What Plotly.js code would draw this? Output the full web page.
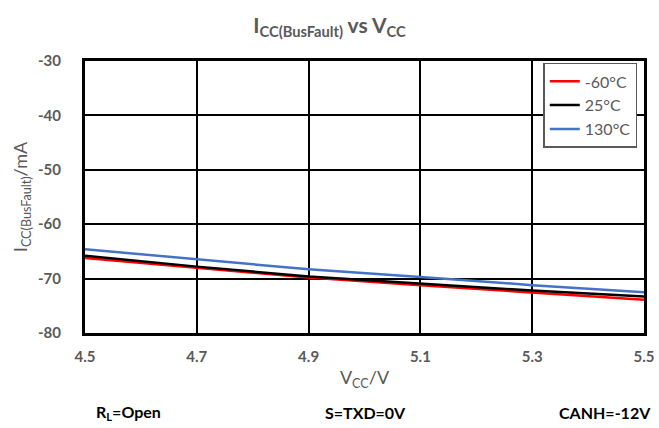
<!DOCTYPE html>
<html><head><meta charset="utf-8">
<script src="https://cdn.plot.ly/plotly-3.0.1.min.js"></script>
<style>html,body{margin:0;padding:0;background:#fff;}#chart{width:659px;height:428px;}</style>
</head><body><div id="chart"></div>
<script>
var vcc = [4.5, 4.7, 4.9, 5.1, 5.3, 5.5];
var seriesNames = ["-60°C", "25°C", "130°C"];
var iccM60 = [-66.2, -68.0, -69.8, -71.2, -72.6, -73.9];
var icc25 = [-65.8, -67.8, -69.6, -70.9, -72.2, -73.3];
var icc130 = [-64.6, -66.4, -68.3, -69.7, -71.2, -72.5];
var xTicks = [4.5, 4.7, 4.9, 5.1, 5.3, 5.5];
var yTicks = [-30, -40, -50, -60, -70, -80];

var font = "Lato, 'Open Sans', sans-serif";
var gray = "#595959";
var colors = ["#ff0000", "#000000", "#4472c4"];
var ys = [iccM60, icc25, icc130];
var traces = ys.map(function(y, i){
  return {x: vcc, y: y, name: seriesNames[i], type: "scatter", mode: "lines",
    line: {color: colors[i], width: 2.5}};
});
var layout = {
  width: 659, height: 428,
  margin: {l: 85, r: 15, t: 61, b: 95},
  paper_bgcolor: "#fff", plot_bgcolor: "#fff",
  font: {family: font, color: gray},
  title: {text: "<b>I<sub>CC(BusFault)</sub> vs V<sub>CC</sub></b>", x: 0.5, xanchor: "center", y: 0.94, yanchor: "middle",
    font: {size: 21, color: gray, family: font}},
  xaxis: {range: [4.5, 5.5], tickvals: xTicks, ticktext: xTicks.map(function(v){return "<b>"+v.toFixed(1)+"</b>";}),
    showgrid: true, gridcolor: "#000", gridwidth: 2, zeroline: false,
    showline: true, linecolor: "#000", linewidth: 3, mirror: true, ticks: "",
    tickfont: {size: 15, color: gray}, ticklabelstandoff: 8,
    title: {text: "V<sub>CC</sub>/V", font: {size: 18, color: gray}, standoff: 8}},
  yaxis: {range: [-80, -30], tickvals: yTicks, ticktext: yTicks.map(function(v){return "<b>"+v+"</b>";}),
    showgrid: true, gridcolor: "#000", gridwidth: 2, zeroline: false,
    showline: true, linecolor: "#000", linewidth: 3, mirror: true, ticks: "",
    tickfont: {size: 15, color: gray}, ticklabelstandoff: 18,
    title: {text: "I<sub>CC(BusFault)</sub>/mA", font: {size: 18, color: gray}, standoff: 6}},
  showlegend: true,
  legend: {x: 0.988, xanchor: "right", y: 0.993, yanchor: "top", bgcolor: "#fff",
    bordercolor: "#595959", borderwidth: 1.5, font: {size: 16, color: gray},
    tracegroupgap: 0, itemwidth: 30},
  annotations: [
    {text: "<b>R<sub>L</sub>=Open</b>", x: 128, y: 412},
    {text: "<b>S=TXD=0V</b>", x: 365, y: 412},
    {text: "<b>CANH=-12V</b>", x: 605, y: 412}
  ].map(function(a){
    return {text: a.text, xref: "paper", yref: "paper", x: (a.x-85)/559, y: 1-(a.y-61)/272,
      xanchor: "center", yanchor: "middle", showarrow: false, font: {size: 16, color: "#000", family: font}};
  })
};
Plotly.newPlot("chart", traces, layout, {displayModeBar: false, staticPlot: true});
</script></body></html>
